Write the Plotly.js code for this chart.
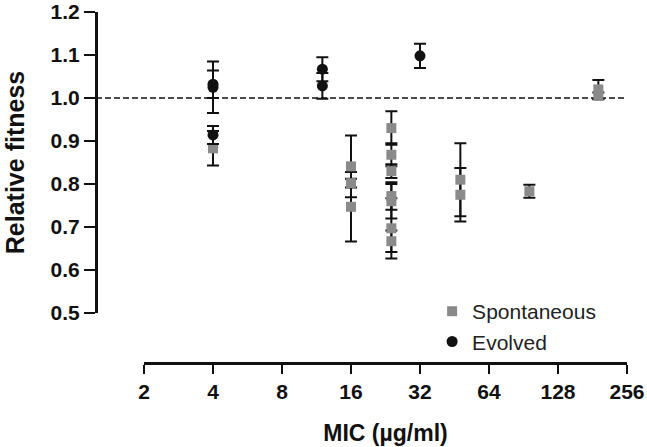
<!DOCTYPE html>
<html>
<head>
<meta charset="utf-8">
<script src="https://cdn.plot.ly/plotly-3.0.1.min.js"></script>
<style>html,body{margin:0;padding:0;background:#fff;}#chart{width:647px;height:447px;}</style>
</head>
<body>
<div id="chart"></div>
<script>
// Spontaneous mutants (gray squares)
const spontMIC   = [4,     16,    16,    16,    24,    24,    24,    24,    24,    24,    24,    48,    48,    96,    192,   192];
const spontFit   = [0.883, 0.841, 0.802, 0.747, 0.930, 0.868, 0.830, 0.772, 0.760, 0.697, 0.667, 0.810, 0.775, 0.783, 1.020, 1.005];
const spontErr   = [0.040, 0.072, 0.010, 0.081, 0.039, 0.027, 0.016, 0.032, 0.040, 0.070, 0.025, 0.085, 0.062, 0.015, 0.022, 0.008];
// Evolved mutants (black circles)
const evoMIC     = [4,     4,     4,     12,    12,    32];
const evoFit     = [1.025, 1.032, 0.914, 1.067, 1.028, 1.098];
const evoErr     = [0.060, 0.032, 0.021, 0.028, 0.030, 0.028];
// Axis ticks
const xTicks     = [2, 4, 8, 16, 32, 64, 128, 256];
const xTickText  = ["2", "4", "8", "16", "32", "64", "128", "256"];
const yTicks     = [0.5, 0.6, 0.7, 0.8, 0.9, 1.0, 1.1, 1.2];
const yTickText  = ["0.5", "0.6", "0.7", "0.8", "0.9", "1.0", "1.1", "1.2"];
const refLevel   = 1.0;

const FONT = "Liberation Sans, Arial, Helvetica, sans-serif";

const traces = [
  {
    type: "scatter", mode: "markers", name: "Spontaneous",
    x: spontMIC, y: spontFit,
    error_y: {type: "data", array: spontErr, visible: true, color: "#111", thickness: 2, width: 6},
    marker: {symbol: "square", size: 10, color: "#8a8a8a"}
  },
  {
    type: "scatter", mode: "markers", name: "Evolved",
    x: evoMIC, y: evoFit,
    error_y: {type: "data", array: evoErr, visible: true, color: "#111", thickness: 2, width: 6},
    marker: {symbol: "circle", size: 11, color: "#111"}
  }
];

const layout = {
  width: 647, height: 447,
  margin: {l: 96, r: 20, t: 12, b: 84},
  paper_bgcolor: "#fff", plot_bgcolor: "#fff",
  font: {family: FONT, color: "#111"},
  showlegend: true,
  legend: {x: 0.633, y: 0.205, xanchor: "left", yanchor: "top",
           font: {family: FONT, size: 21, color: "#222"}, bgcolor: "rgba(0,0,0,0)",
           tracegroupgap: 0},
  xaxis: {
    type: "log", range: [Math.log10(2), Math.log10(256)],
    domain: [48/531, 1], anchor: "free", position: 0,
    tickvals: xTicks, ticktext: xTickText,
    showline: true, linecolor: "#111", linewidth: 2.5,
    ticks: "outside", ticklen: 9, tickwidth: 2.5, tickcolor: "#111",
    showgrid: false, zeroline: false,
    tickfont: {family: FONT, size: 21, color: "#111", weight: "bold"},
    title: {text: "MIC (µg/ml)", font: {family: FONT, size: 23, color: "#111", weight: "bold"}, standoff: 22}
  },
  yaxis: {
    range: [0.5, 1.2], domain: [50/351, 1], anchor: "free", position: 0,
    tickvals: yTicks, ticktext: yTickText,
    showline: true, linecolor: "#111", linewidth: 2.5,
    ticks: "outside", ticklen: 11, tickwidth: 2.5, tickcolor: "#111",
    showgrid: false, zeroline: false,
    tickfont: {family: FONT, size: 21, color: "#111", weight: "bold"},
    title: {text: "Relative fitness", font: {family: FONT, size: 25, color: "#111", weight: "bold"}, standoff: 18}
  },
  shapes: [{
    type: "line", xref: "paper", x0: 0, x1: 1, yref: "y", y0: refLevel, y1: refLevel,
    line: {color: "#111", width: 1.5, dash: "6px,3px"}, layer: "below"
  }]
};

Plotly.newPlot("chart", traces, layout, {displayModeBar: false, staticPlot: true});
</script>
</body>
</html>
